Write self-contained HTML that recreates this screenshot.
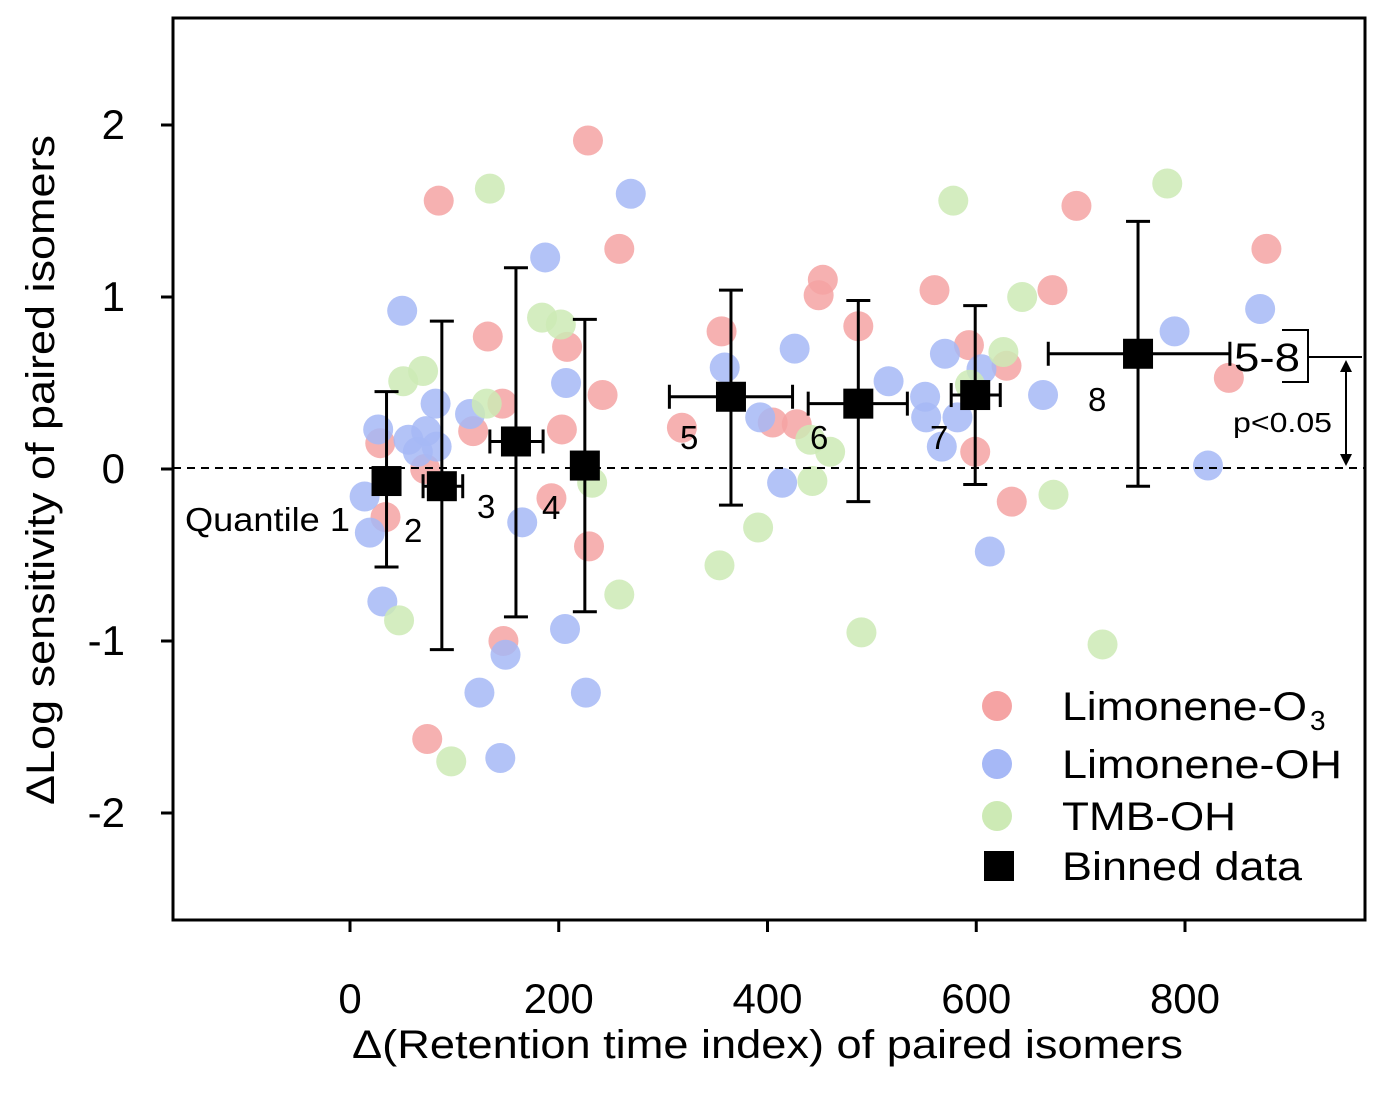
<!DOCTYPE html>
<html><head><meta charset="utf-8"><style>
body{margin:0;background:#fff}
svg text{font-family:"Liberation Sans",Arial,sans-serif;fill:#000}
</style></head><body>
<svg id="chart" width="1384" height="1089" viewBox="0 0 1384 1089" xmlns="http://www.w3.org/2000/svg">
<g id="points"></g>
<g id="bins"></g>
<rect x="173" y="18" width="1192" height="902" fill="none" stroke="#000" stroke-width="3"/>
<line x1="173" y1="468" x2="1365" y2="468" stroke="#000" stroke-width="2" stroke-dasharray="8,6"/>
<g id="axes"></g>
<text x="352" y="1058" font-size="40" textLength="831" lengthAdjust="spacingAndGlyphs">Δ(Retention time index) of paired isomers</text>
<text transform="translate(54,805) rotate(-90)" font-size="40" textLength="670" lengthAdjust="spacingAndGlyphs">ΔLog sensitivity of paired isomers</text>
<g font-size="33">
<text x="185" y="531" textLength="165" lengthAdjust="spacingAndGlyphs">Quantile 1</text><text x="404" y="542">2</text><text x="477" y="518">3</text><text x="542" y="519">4</text>
<text x="680" y="449">5</text><text x="810" y="449">6</text><text x="930" y="449">7</text><text x="1088" y="411">8</text>
</g>
<g>
<text x="1234" y="371" font-size="40" textLength="66" lengthAdjust="spacingAndGlyphs">5-8</text>
<path d="M1282 330 H1308 V382 H1282" fill="none" stroke="#000" stroke-width="2"/>
<line x1="1308" y1="357" x2="1362" y2="357" stroke="#000" stroke-width="2"/>
<line x1="1346" y1="370" x2="1346" y2="456" stroke="#000" stroke-width="2"/>
<path d="M1340 372 L1346 360 L1352 372 Z M1340 454 L1346 466 L1352 454 Z" fill="#000"/>
<text x="1233" y="432" font-size="28" textLength="99" lengthAdjust="spacingAndGlyphs">p&lt;0.05</text>
</g>
<g font-size="40">
<circle cx="997" cy="706" r="15" fill="#f5a3a3"/>
<text x="1062" y="720" textLength="245" lengthAdjust="spacingAndGlyphs">Limonene-O</text><text x="1310" y="730" font-size="28">3</text>
<circle cx="997" cy="764" r="15" fill="#a6b8f6"/>
<text x="1062" y="778" textLength="280" lengthAdjust="spacingAndGlyphs">Limonene-OH</text>
<circle cx="997" cy="816" r="15" fill="#cdeab5"/>
<text x="1062" y="830" textLength="174" lengthAdjust="spacingAndGlyphs">TMB-OH</text>
<rect x="984" y="851" width="30" height="30" fill="#000"/>
<text x="1062" y="880" textLength="240" lengthAdjust="spacingAndGlyphs">Binned data</text>
</g>
</svg>
<script>
const redX=[29,85,72,34,132,118,146,147,74,228,258,208,203,242,193,229,318,356,405,428,453,449,487,560,593,599,629,634,673,696,842,878];
const redY=[0.15,1.56,0.0,-0.28,0.77,0.22,0.38,-1.0,-1.57,1.91,1.28,0.71,0.23,0.43,-0.17,-0.45,0.24,0.8,0.27,0.26,1.10,1.01,0.83,1.04,0.72,0.10,0.60,-0.19,1.04,1.53,0.53,1.28];
const blueX=[14,19,31,27,50,56,65,73,82,83,115,124,144,149,165,187,207,206,226,269,359,393,414,426,516,551,552,570,567,582,605,613,664,790,822,872];
const blueY=[-0.16,-0.37,-0.77,0.23,0.92,0.17,0.10,0.22,0.38,0.13,0.32,-1.30,-1.68,-1.08,-0.31,1.23,0.50,-0.93,-1.30,1.60,0.59,0.30,-0.08,0.70,0.51,0.42,0.30,0.67,0.13,0.30,0.58,-0.48,0.43,0.80,0.02,0.93];
const greenX=[51,70,47,97,131,134,184,202,232,258,354,391,443,441,460,490,578,594,626,644,674,721,783];
const greenY=[0.51,0.57,-0.88,-1.70,0.38,1.63,0.88,0.84,-0.08,-0.73,-0.56,-0.34,-0.07,0.17,0.10,-0.95,1.56,0.49,0.68,1.00,-0.15,-1.02,1.66];
const binX=[35,88,159,225,365,487,599,755];
const binY=[-0.07,-0.1,0.16,0.02,0.42,0.38,0.43,0.67];
const binXlo=[35,70,134,220,306,439,576,669];
const binXhi=[35,108,185,230,424,534,623,843];
const binYlo=[-0.57,-1.05,-0.86,-0.83,-0.21,-0.19,-0.09,-0.10];
const binYhi=[0.45,0.86,1.17,0.87,1.04,0.98,0.95,1.44];
const xTicks=[0,200,400,600,800];
const yTicks=[2,1,0,-1,-2];
const sx=v=>350+v*1.04375;
const sy=v=>469-v*172;
const NS="http://www.w3.org/2000/svg";
function mk(tag,attrs,parent){const e=document.createElementNS(NS,tag);for(const k in attrs)e.setAttribute(k,attrs[k]);parent.appendChild(e);return e;}
const pts=document.getElementById('points');
[[redX,redY,'#f5a3a3','red'],[blueX,blueY,'#a6b8f6','blue'],[greenX,greenY,'#cdeab5','green']].forEach(([xs,ys,c,n])=>{
 xs.forEach((x,i)=>{const e=mk('circle',{cx:sx(x),cy:sy(ys[i]),r:15,fill:c,'fill-opacity':0.85},pts);
 
 });
});
const bins=document.getElementById('bins');
binX.forEach((x,i)=>{
 const g=mk('g',{stroke:'#000','stroke-width':3},bins);
 
 
 const cx=sx(x),cy=sy(binY[i]),x1=sx(binXlo[i]),x2=sx(binXhi[i]),y1=sy(binYhi[i]),y2=sy(binYlo[i]);
 mk('line',{x1:cx,x2:cx,y1:y1,y2:y2},g);
 mk('line',{x1:cx-12,x2:cx+12,y1:y1,y2:y1},g);
 mk('line',{x1:cx-12,x2:cx+12,y1:y2,y2:y2},g);
 if(x2-x1>2){mk('line',{x1:x1,x2:x2,y1:cy,y2:cy},g);
  mk('line',{x1:x1,x2:x1,y1:cy-12,y2:cy+12},g);
  mk('line',{x1:x2,x2:x2,y1:cy-12,y2:cy+12},g);}
 mk('rect',{x:cx-15,y:cy-15,width:30,height:30,fill:'#000',stroke:'none'},g);
});
const ax=document.getElementById('axes');
xTicks.forEach(t=>{const x=sx(t);
 mk('line',{x1:x,x2:x,y1:920,y2:932,stroke:'#000','stroke-width':3},ax);
 const tx=mk('text',{x:x,y:1013,'font-size':42,'text-anchor':'middle'},ax);tx.textContent=t;
 
 });
yTicks.forEach(t=>{const y=sy(t);
 mk('line',{x1:161,x2:173,y1:y,y2:y,stroke:'#000','stroke-width':3},ax);
 const tx=mk('text',{x:125,y:y+14,'font-size':42,'text-anchor':'end'},ax);tx.textContent=t;
 
 });
</script>
</body></html>
